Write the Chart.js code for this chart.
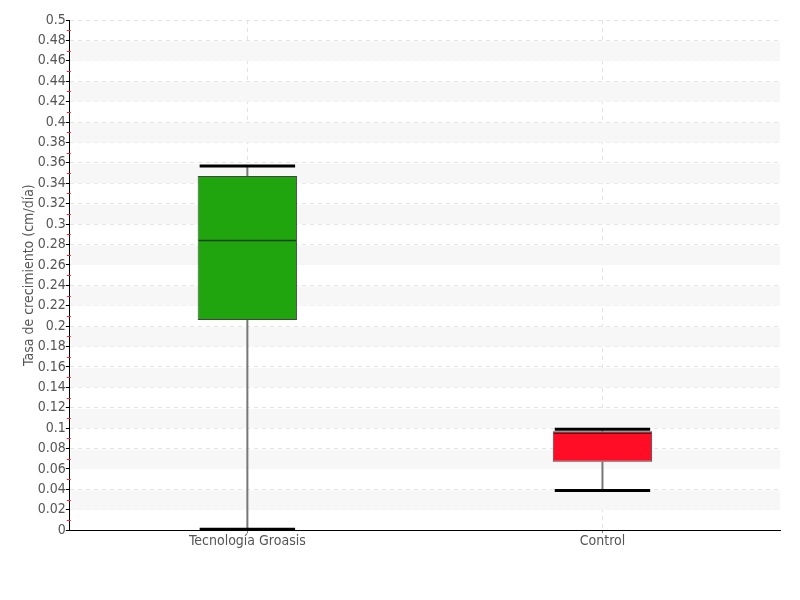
<!DOCTYPE html>
<html>
<head>
<meta charset="utf-8">
<script src="https://cdn.jsdelivr.net/npm/chart.js@4/dist/chart.umd.min.js"></script>
<style>
  html, body { margin: 0; padding: 0; background: #fff; }
  #wrap { width: 800px; height: 600px; }
</style>
</head>
<body>
<div id="wrap"><canvas id="grafico" width="800" height="600"></canvas></div>
<script>
// datos
const categorias = ["Tecnología Groasis", "Control"];
const minimos = [0.001, 0.039];
const q1 = [0.206, 0.067];
const medianas = [0.284, 0.095];
const q3 = [0.347, 0.097];
const maximos = [0.357, 0.099];
const colores = ["#21a50f", "#ff0d26"];
const ticksY = [0, 0.02, 0.04, 0.06, 0.08, 0.1, 0.12, 0.14, 0.16, 0.18, 0.2, 0.22, 0.24,
  0.26, 0.28, 0.3, 0.32, 0.34, 0.36, 0.38, 0.4, 0.42, 0.44, 0.46, 0.48, 0.5];

const fuente = "'DejaVu Sans Condensed', 'Liberation Sans Narrow', 'Roboto Condensed', sans-serif";

// bandas grises + bigotes, medianas y marcas rojas
const cajas = {
  id: "cajas",
  beforeDatasetsDraw(chart) {
    const { ctx, chartArea: a, scales: { y } } = chart;
    ctx.save();
    ctx.fillStyle = "#f7f7f7";
    for (let i = 1; i < ticksY.length - 1; i += 2) {
      const top = y.getPixelForValue(ticksY[i + 1]);
      const bot = y.getPixelForValue(ticksY[i]);
      ctx.fillRect(a.left + 1, top + 1, a.right - a.left - 1, bot - top - 1);
    }
    // bigotes (línea vertical)
    const x = chart.scales.x;
    ctx.strokeStyle = "#777";
    ctx.lineWidth = 2;
    categorias.forEach((c, i) => {
      const cx = x.getPixelForValue(i);
      ctx.beginPath();
      ctx.moveTo(cx, y.getPixelForValue(minimos[i]));
      ctx.lineTo(cx, y.getPixelForValue(q1[i]));
      ctx.moveTo(cx, y.getPixelForValue(q3[i]));
      ctx.lineTo(cx, y.getPixelForValue(maximos[i]));
      ctx.stroke();
    });
    ctx.restore();
  },
  afterDatasetsDraw(chart) {
    const { ctx, chartArea: a, scales: { x, y } } = chart;
    ctx.save();
    const meta = chart.getDatasetMeta(0);
    categorias.forEach((c, i) => {
      const cx = x.getPixelForValue(i);
      const w = meta.data[i].width;
      // topes de los bigotes
      ctx.strokeStyle = "#000";
      ctx.lineWidth = 3;
      ctx.beginPath();
      [minimos[i], maximos[i]].forEach(v => {
        const py = y.getPixelForValue(v);
        ctx.moveTo(cx - w * 0.48, py);
        ctx.lineTo(cx + w * 0.48, py);
      });
      ctx.stroke();
      // mediana
      ctx.strokeStyle = "rgba(0,0,0,0.6)";
      ctx.lineWidth = 1.5;
      ctx.beginPath();
      const my = y.getPixelForValue(medianas[i]);
      ctx.moveTo(cx - w / 2 + 1, my);
      ctx.lineTo(cx + w / 2 - 1, my);
      ctx.stroke();
    });
    // marcas rojas menores
    ctx.strokeStyle = "#ff2020";
    ctx.lineWidth = 1;
    for (let i = 0; i < ticksY.length - 1; i++) {
      const py = Math.round(y.getPixelForValue((ticksY[i] + ticksY[i + 1]) / 2)) + 0.5;
      ctx.beginPath();
      ctx.moveTo(a.left - 3, py);
      ctx.lineTo(a.left + 1, py);
      ctx.stroke();
    }
    ctx.restore();
  }
};

new Chart(document.querySelector("#grafico"), {
  type: "bar",
  data: {
    labels: categorias,
    datasets: [{
      data: q1.map((v, i) => [v, q3[i]]),
      backgroundColor: colores,
      borderColor: "#444",
      borderWidth: 1,
      borderSkipped: false,
      barPercentage: 0.28,
      categoryPercentage: 1
    }]
  },
  options: {
    responsive: false,
    animation: false,
    layout: { padding: { top: 20, right: 20, bottom: 50, left: 21 } },
    plugins: {
      legend: { display: false },
      tooltip: { enabled: false }
    },
    scales: {
      x: {
        grid: { offset: false, color: "#e4e4e4", tickColor: "#888", tickLength: 3 },
        border: { color: "#000", width: 1, dash: [4, 4] },
        ticks: { color: "#555", font: { family: fuente, size: 14 }, padding: 0 }
      },
      y: {
        min: 0,
        max: 0.5,
        afterBuildTicks(axis) { axis.ticks = ticksY.map(v => ({ value: v })); },
        grid: { color: "#e4e4e4", tickColor: "#000", tickLength: 4, lineWidth: 1 },
        border: { color: "#000", width: 1, dash: [4, 4] },
        ticks: {
          color: "#555",
          font: { family: fuente, size: 14 },
          padding: 0,
          callback: v => String(+v.toFixed(2))
        },
        title: {
          display: true,
          text: "Tasa de crecimiento (cm/día)",
          color: "#555",
          font: { family: fuente, size: 14 },
          padding: 0
        }
      }
    }
  },
  plugins: [cajas]
});
</script>
</body>
</html>
